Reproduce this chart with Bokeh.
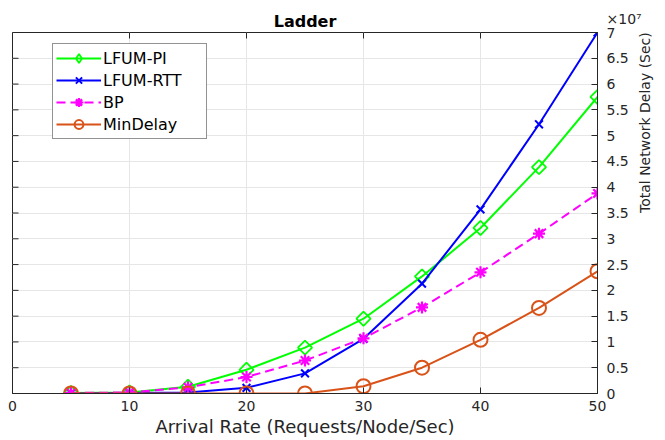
import math
from bokeh.plotting import figure
from bokeh.models import (LinearAxis, FixedTicker, Range1d, Legend, LegendItem)
from bokeh.embed import file_html
from bokeh.resources import INLINE

x = [5, 10, 15, 20, 25, 30, 35, 40, 45, 50]
lfum_pi = [0.01e7, 0.02e7, 0.13e7, 0.46e7, 0.89e7, 1.45e7, 2.27e7, 3.21e7, 4.39e7, 5.75e7]
lfum_rtt = [0.0, 0.01e7, 0.02e7, 0.11e7, 0.39e7, 1.06e7, 2.13e7, 3.57e7, 5.22e7, 7.0e7]
bp = [0.01e7, 0.02e7, 0.12e7, 0.32e7, 0.64e7, 1.07e7, 1.67e7, 2.35e7, 3.10e7, 3.88e7]
mindelay = [0.0, 0.0, 0.0, 0.0, 0.0, 0.14e7, 0.50e7, 1.04e7, 1.66e7, 2.37e7]

x_ticks = [0, 10, 20, 30, 40, 50]
y_ticks = [i * 0.5e7 for i in range(15)]
y_tick_labels = ["0", "0.5", "1", "1.5", "2", "2.5", "3", "3.5", "4", "4.5", "5", "5.5", "6", "6.5",
                 "×10⁷\n7\n\u00a0"]

FONT = "DejaVu Sans"
AX = "#262626"

p = figure(frame_width=585, frame_height=361, output_backend="svg", toolbar_location=None,
           x_range=Range1d(0, 50), y_range=Range1d(0, 7e7),
           x_axis_location=None, y_axis_location=None,
           min_border_left=12, min_border_right=68, min_border_top=32, min_border_bottom=47)
p.background_fill_color = "white"
p.border_fill_color = "white"
p.outline_line_color = AX
p.outline_line_width = 1

p.title.text = "Ladder"
p.title.align = "center"
p.title.text_font = FONT
p.title.text_font_size = "16px"
p.title.text_font_style = "bold"
p.title.text_color = "black"
p.title.standoff = 4
p.title.offset = 0

def style_axis(ax):
    ax.axis_line_color = AX
    ax.major_tick_line_color = AX
    ax.major_tick_in = 6
    ax.major_tick_out = 0
    ax.minor_tick_line_color = None
    ax.major_label_text_font = FONT
    ax.major_label_text_font_size = "14px"
    ax.major_label_text_color = AX
    ax.axis_label_text_font = FONT
    ax.axis_label_text_font_style = "normal"
    ax.axis_label_text_color = AX

xb = LinearAxis(ticker=FixedTicker(ticks=x_ticks), axis_label="Arrival Rate (Requests/Node/Sec)")
style_axis(xb)
xb.major_label_standoff = 7
xb.axis_label_text_font_size = "18px"
xb.axis_label_standoff = 2
p.add_layout(xb, "below")

yr = LinearAxis(ticker=FixedTicker(ticks=y_ticks), axis_label="Total Network Delay (Sec)")
style_axis(yr)
yr.major_label_overrides = {t: s for t, s in zip(y_ticks, y_tick_labels)}
yr.major_label_standoff = 9
yr.major_label_text_line_height = 0.85
yr.axis_label_text_font_size = "14px"
yr.axis_label_standoff = 0
if hasattr(yr, "axis_label_orientation"):
    yr.axis_label_orientation = math.pi / 2
p.add_layout(yr, "right")

# inward ticks on the top and left edges of the box
p.ray(x=x_ticks, y=[7e7] * len(x_ticks), length=6, length_units="screen",
      angle=-math.pi / 2, line_color=AX, line_width=1)
p.ray(x=[0] * len(y_ticks), y=y_ticks, length=6, length_units="screen",
      angle=0, line_color=AX, line_width=1)

p.xgrid.ticker = FixedTicker(ticks=x_ticks)
p.ygrid.ticker = FixedTicker(ticks=y_ticks)
p.grid.grid_line_color = "#e6e6e6"
p.grid.grid_line_width = 1

GREEN, BLUE, MAG, ORANGE = "#00ff00", "#0000ff", "#ff00ff", "#d95319"

l1 = p.line(x, lfum_pi, line_color=GREEN, line_width=2)
m1 = p.scatter(x, lfum_pi, marker="square", angle=math.pi / 4, size=10,
               line_color=GREEN, fill_alpha=0, line_width=1.8)
# hidden diamond renderer used only for the legend swatch
m1_leg = p.scatter(x, lfum_pi, marker="diamond", size=16, line_color=GREEN,
                   fill_alpha=0, line_width=1.8, visible=False)
l2 = p.line(x, lfum_rtt, line_color=BLUE, line_width=2)
m2 = p.scatter(x, lfum_rtt, marker="x", size=11, line_color=BLUE, line_width=2)
l3 = p.line(x, bp, line_color=MAG, line_width=2, line_dash="9 5")
m3 = p.scatter(x, bp, marker="asterisk", size=12, line_color=MAG, line_width=2.2)
l4 = p.line(x, mindelay, line_color=ORANGE, line_width=2)
m4 = p.scatter(x, mindelay, marker="circle", size=14, line_color=ORANGE, fill_alpha=0, line_width=2)

legend = Legend(items=[
    LegendItem(label="LFUM-PI", renderers=[l1, m1_leg]),
    LegendItem(label="LFUM-RTT", renderers=[l2, m2]),
    LegendItem(label="BP", renderers=[l3, m3]),
    LegendItem(label="MinDelay", renderers=[l4, m4]),
], location=(40, 254))
legend.border_line_color = AX
legend.border_line_width = 1
legend.background_fill_color = "white"
legend.inactive_fill_alpha = 0
legend.label_text_font = FONT
legend.label_text_font_size = "16px"
legend.label_text_color = "black"
legend.glyph_width = 45
legend.glyph_height = 22
legend.label_height = 22
legend.label_width = 100
legend.label_standoff = 2
legend.spacing = 0
legend.padding = 3
legend.margin = 0
p.add_layout(legend, "center")

open("out.html", "w").write(file_html(p, INLINE))
